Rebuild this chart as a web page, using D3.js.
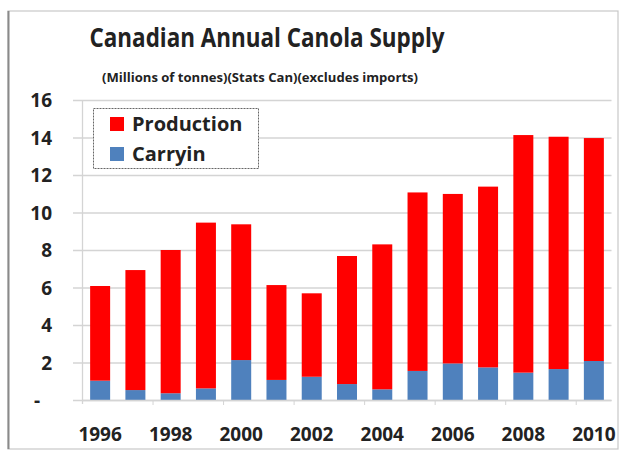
<!DOCTYPE html>
<html>
<head>
<meta charset="utf-8">
<script src="https://cdn.jsdelivr.net/npm/d3@7/dist/d3.min.js"></script>
<style>
  html, body { margin: 0; padding: 0; background: #fff; }
  svg { display: block; }
  text { font-family: "Open Sans", "Liberation Sans", sans-serif; font-weight: bold; fill: #222; }
</style>
</head>
<body>
<svg id="chart" width="623" height="456"></svg>
<script>
const years = [1996,1997,1998,1999,2000,2001,2002,2003,2004,2005,2006,2007,2008,2009,2010];
const carryin = [1.03,0.53,0.36,0.62,2.13,1.07,1.24,0.85,0.57,1.55,1.95,1.74,1.46,1.65,2.08];
const production = [5.05,6.40,7.64,8.84,7.24,5.06,4.45,6.83,7.73,9.52,9.04,9.64,12.67,12.39,11.89];
const yTicks = [0,2,4,6,8,10,12,14,16];
const xLabels = [1996,1998,2000,2002,2004,2006,2008,2010];
const seriesNames = ["Production","Carryin"];
const colors = {Production: "#ff0000", Carryin: "#4f81bd"};

const svg = d3.select("#chart");
const m = {left: 82.5, right: 611.5, top: 100, bottom: 400};

// frame
svg.append("rect").attr("x", 8).attr("y", 11).attr("width", 610).attr("height", 438)
  .attr("fill", "#fff").attr("stroke", "#c8c8c8").attr("stroke-width", 1.2);
svg.append("line").attr("x1", 8.5).attr("x2", 8.5).attr("y1", 11).attr("y2", 449)
  .attr("stroke", "#8a8a8a").attr("stroke-width", 2);

const x = d3.scaleBand().domain(years).range([m.left, m.right]).paddingInner(0.433).paddingOuter(0.2165);
const y = d3.scaleLinear().domain([0, 16]).range([m.bottom, m.top]);

// gridlines
svg.append("g").selectAll("line").data(yTicks).join("line")
  .attr("x1", 73).attr("x2", m.right)
  .attr("y1", d => y(d) + 0.5).attr("y2", d => y(d) + 0.5)
  .attr("stroke", "#d4d4d4").attr("stroke-width", 1.3);
svg.append("line").attr("x1", m.left).attr("x2", m.left).attr("y1", m.top).attr("y2", m.bottom + 4)
  .attr("stroke", "#d4d4d4").attr("stroke-width", 1.3);

// y labels
const yAxis = d3.axisLeft(y).tickValues(yTicks).tickSize(0).tickPadding(0)
  .tickFormat(d => d === 0 ? "-" : d);
const gy = svg.append("g").attr("transform", "translate(52,0)").call(yAxis);
gy.select(".domain").remove();
gy.selectAll("text").style("font-size", "19px").style("text-anchor", "end").attr("fill", "#222").attr("dy", "0.35em")
  .attr("x", d => d === 0 ? -12 : 0);

// stacked bars
const rows = years.map((yr, i) => ({year: yr, Carryin: carryin[i], Production: production[i]}));
const stack = d3.stack().keys(["Carryin", "Production"])(rows);
svg.append("g").selectAll("g").data(stack).join("g")
  .attr("fill", s => colors[s.key])
  .selectAll("rect").data(s => s).join("rect")
  .attr("x", d => x(d.data.year))
  .attr("width", x.bandwidth())
  .attr("y", d => y(d[1]))
  .attr("height", d => y(d[0]) - y(d[1]));

// x axis ticks every 2 categories
const step = x.step();
const tickPos = d3.range(2, years.length, 2).map(i => m.left + i * step);
svg.append("g").selectAll("line").data(tickPos).join("line")
  .attr("x1", d => d).attr("x2", d => d).attr("y1", m.bottom).attr("y2", m.bottom + 5)
  .attr("stroke", "#d4d4d4").attr("stroke-width", 1);
svg.append("line").attr("x1", m.left).attr("x2", m.right).attr("y1", m.bottom + 0.5).attr("y2", m.bottom + 0.5)
  .attr("stroke", "#d4d4d4").attr("stroke-width", 1.3);

// x labels
svg.append("g").selectAll("text").data(xLabels).join("text")
  .attr("x", d => x(d) + x.bandwidth() / 2)
  .attr("y", 441)
  .attr("text-anchor", "middle")
  .style("font-size", "19px")
  .text(d => d);

// titles
svg.append("text").attr("x", 267).attr("y", 47).attr("text-anchor", "middle")
  .attr("textLength", 355).attr("lengthAdjust", "spacingAndGlyphs")
  .style("font-size", "27px").text("Canadian Annual Canola Supply");
svg.append("text").attr("x", 260).attr("y", 82).attr("text-anchor", "middle")
  .attr("textLength", 316).attr("lengthAdjust", "spacingAndGlyphs")
  .style("font-size", "12.5px").text("(Millions of tonnes)(Stats Can)(excludes imports)");

// legend
const lg = svg.append("g");
lg.append("rect").attr("x", 93.5).attr("y", 108.5).attr("width", 165).attr("height", 60)
  .attr("fill", "#fff").attr("stroke", "#666").attr("stroke-width", 1).attr("stroke-dasharray", "2,1");
seriesNames.forEach((n, i) => {
  const cy = 124 + i * 30;
  lg.append("rect").attr("x", 110).attr("y", cy - 7).attr("width", 14).attr("height", 14).attr("fill", colors[n]);
  lg.append("text").attr("x", 132).attr("y", cy).attr("dy", "0.36em")
    .style("font-size", "20px").text(n);
});
</script>
</body>
</html>
